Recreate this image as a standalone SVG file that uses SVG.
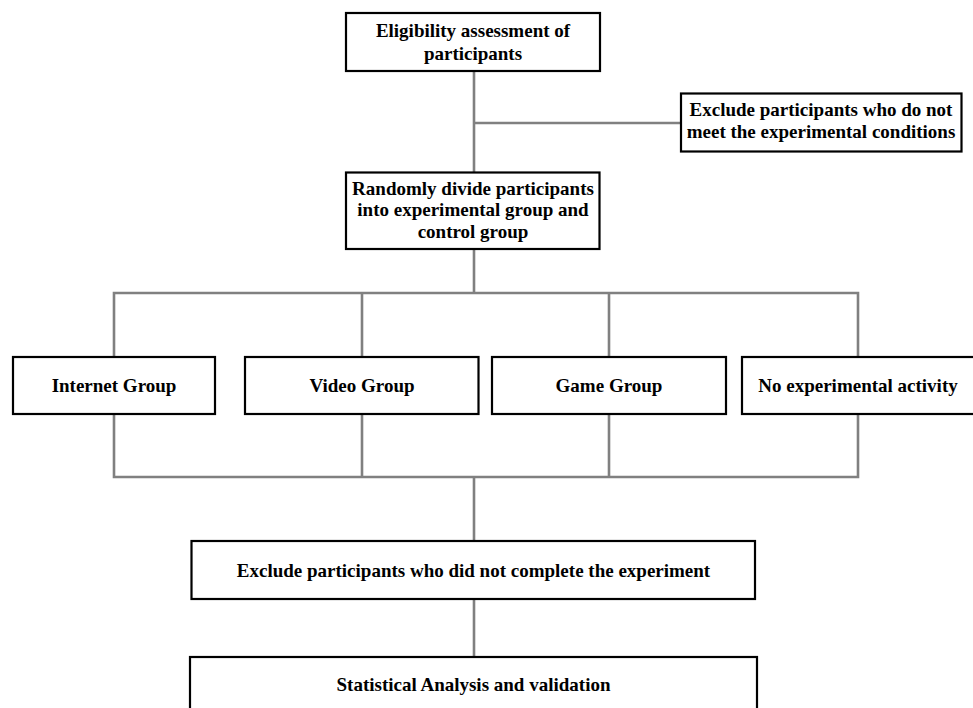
<svg xmlns="http://www.w3.org/2000/svg" width="973" height="708" viewBox="0 0 973 708">
<style>
.box{fill:#fff;stroke:#000;stroke-width:2.2}
.t{font-family:"Liberation Serif","Times New Roman",serif;font-weight:bold;font-size:19px;fill:#000;text-anchor:middle}
.c{fill:none;stroke:#808080;stroke-width:2.6;stroke-linecap:square}
</style>
<rect width="973" height="708" fill="#fff"/>
<g id="connectors">
<path class="c" d="M474 71V172M474 123H681"/>
<path class="c" d="M474 249V293M114 293H858M114 293V357M362 293V357M609 293V357M858 293V357"/>
<path class="c" d="M114 414V477M362 414V477M609 414V477M858 414V477M114 477H858M474 477V541"/>
<path class="c" d="M474 599V657"/>
</g>
<g id="eligibility">
<rect class="box" x="346" y="13" width="254" height="58"/>
<text class="t" x="473" y="37">Eligibility assessment of</text>
<text class="t" x="473" y="59.5">participants</text>
</g>
<g id="exclude-conditions">
<rect class="box" x="681" y="93.5" width="280.5" height="58"/>
<text class="t" x="821" y="116">Exclude participants who do not</text>
<text class="t" x="821" y="138">meet the experimental conditions</text>
</g>
<g id="randomly-divide">
<rect class="box" x="346" y="172.5" width="253.5" height="76.5"/>
<text class="t" x="473" y="195">Randomly divide participants</text>
<text class="t" x="473" y="216.3">into experimental group and</text>
<text class="t" x="473" y="237.6">control group</text>
</g>
<g id="internet-group">
<rect class="box" x="13" y="357" width="202" height="57"/>
<text class="t" x="114" y="392">Internet Group</text>
</g>
<g id="video-group">
<rect class="box" x="245" y="357" width="233.5" height="57"/>
<text class="t" x="362" y="392">Video Group</text>
</g>
<g id="game-group">
<rect class="box" x="492" y="357" width="234" height="57"/>
<text class="t" x="609" y="392">Game Group</text>
</g>
<g id="no-activity">
<rect class="box" x="742" y="357" width="234" height="57"/>
<text class="t" x="858" y="392">No experimental activity</text>
</g>
<g id="exclude-incomplete">
<rect class="box" x="191.5" y="541" width="563.5" height="58"/>
<text class="t" x="473.5" y="576.5">Exclude participants who did not complete the experiment</text>
</g>
<g id="statistical-analysis">
<rect class="box" x="190" y="657" width="567" height="60"/>
<text class="t" x="473.5" y="691">Statistical Analysis and validation</text>
</g>
</svg>
